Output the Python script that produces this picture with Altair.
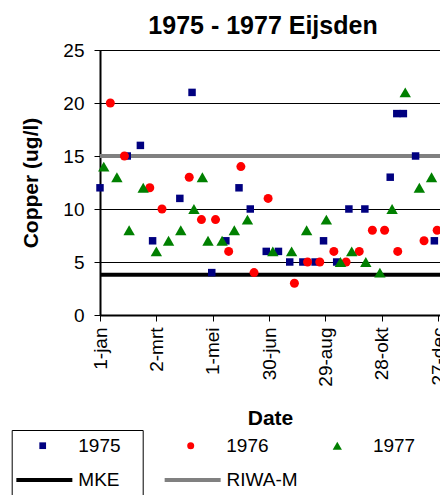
import altair as alt
import pandas as pd

years = ["1975", "1976", "1977"]
year_colors = ["#000080", "#ff0000", "#008000"]
year_shapes = ["square", "circle", "triangle-up"]

day_1975 = [0, 29, 43, 56, 85, 98, 119, 134, 148, 160, 177, 190, 202, 216, 229, 238, 252, 265, 282, 309, 316, 323, 336, 356]
cu_1975 = [12, 15, 16, 7, 11, 21, 4, 7, 12, 10, 6, 6, 5, 5, 5, 7, 5, 10, 10, 13, 19, 19, 15, 7]

day_1976 = [11, 26, 53, 66, 95, 108, 123, 137, 150, 164, 179, 207, 221, 234, 249, 262, 276, 290, 303, 317, 345, 359]
cu_1976 = [20, 15, 12, 10, 13, 9, 9, 6, 14, 4, 11, 3, 5, 5, 6, 5, 6, 8, 8, 6, 7, 8]

day_1977 = [4, 18, 31, 46, 60, 73, 86, 100, 109, 115, 130, 143, 157, 184, 204, 220, 241, 256, 268, 283, 298, 311, 325, 340, 353]
cu_1977 = [14, 13, 8, 12, 6, 7, 8, 10, 13, 7, 7, 8, 9, 6, 6, 8, 9, 5, 6, 5, 4, 10, 21, 12, 13]

norm_names = ["MKE", "RIWA-M"]
norm_levels = [3.8, 15]
norm_colors = ["#000000", "#808080"]

tick_days = [0, 60, 120, 180, 240, 300, 360]
tick_labels = ["1-jan", "2-mrt", "1-mei", "30-jun", "29-aug", "28-okt", "27-dec"]
y_ticks = [0, 5, 10, 15, 20, 25]

FONT = "Arial, Liberation Sans, sans-serif"

label_expr = " : ".join(
    f"datum.value == {d} ? '{l}'" for d, l in zip(tick_days, tick_labels)
) + " : ''"

y_enc = alt.Y(
    "cu:Q",
    scale=alt.Scale(domain=[0, 25], nice=False, zero=True),
    axis=alt.Axis(
        values=y_ticks, labelFontSize=19, labelPadding=10, tickSize=6,
        tickColor="black", domainColor="black", domainWidth=2,
        grid=True, gridColor="black", gridWidth=1, gridOpacity=1,
        labelColor="black", labelFont=FONT,
        title="Copper (ug/l)", titleFontSize=21, titleFontWeight="bold",
        titleFont=FONT, titleColor="black", titleX=-59,
    ),
)

x_enc = alt.X(
    "day:Q",
    scale=alt.Scale(domain=[0, 362], nice=False, zero=False),
    axis=alt.Axis(
        values=tick_days, labelExpr=label_expr, labelAngle=270,
        labelFontSize=19, labelPadding=6, tickSize=6, tickColor="black",
        domainColor="black", domainWidth=2, grid=False,
        labelColor="black", labelFont=FONT,
        title="Date", titleFontSize=21, titleFontWeight="bold",
        titleFont=FONT, titleColor="black", titlePadding=21,
    ),
)

# one single-entry legend per series, placed to mimic the Excel legend box
OX, OY = 100, 50  # page position of plot origin


def common_legend(**kw):
    base = dict(
        orient="none", direction="horizontal",
        labelFontSize=19, labelFont=FONT, labelColor="black",
        symbolOpacity=1,
    )
    base.update(kw)
    return alt.Legend(**base)


norm_legends = [
    common_legend(
        title="\u00a0" * 170, titleFontSize=10, titlePadding=7.35, titleLimit=3000,
        legendX=34.85 - 23.15 - OX, legendY=430 - OY, padding=23.15,
        strokeColor="black", symbolType="M-7,0H7", symbolSize=64,
        symbolStrokeWidth=4, labelOffset=24.45,
    ),
    common_legend(
        title=None, legendX=183.15 - OX, legendY=470.5 - OY, padding=0,
        symbolType="M-7,0H7", symbolSize=64, symbolStrokeWidth=4, labelOffset=24.45,
    ),
]

year_sym_centers = [42.7, 190.7, 337.3]
year_legend_sizes = [45, 49, 86]
year_mark_sizes = [56, 81, 130]

layers = []
for name, lvl, col, leg in zip(norm_names, norm_levels, norm_colors, norm_legends):
    df = pd.DataFrame({"name": [name], "cu": [lvl]})
    layers.append(
        alt.Chart(df).mark_rule(strokeWidth=4, strokeCap="butt").encode(
            y=y_enc,
            color=alt.Color("name:N", scale=alt.Scale(domain=[name], range=[col]), legend=leg),
        )
    )

for yr, ds, vs, col, shp, cx, lsz, msz in zip(
    years, [day_1975, day_1976, day_1977], [cu_1975, cu_1976, cu_1977],
    year_colors, year_shapes, year_sym_centers, year_legend_sizes, year_mark_sizes,
):
    df = pd.DataFrame({"year": [yr] * len(ds), "day": ds, "cu": vs})
    x0 = cx - 9.5
    leg = common_legend(
        title=None, legendX=x0 - OX, legendY=445.7 - 9.5 - OY, padding=0,
        symbolType=shp, symbolSize=lsz, symbolStrokeWidth=0,
        labelOffset=26.1,
    )
    layers.append(
        alt.Chart(df).mark_point(filled=True, opacity=1, strokeWidth=0, shape=shp, size=msz).encode(
            x=x_enc,
            y=y_enc,
            color=alt.Color("year:N", scale=alt.Scale(domain=[yr], range=[col]), legend=leg),
        )
    )

chart = (
    alt.layer(*layers)
    .resolve_scale(color="independent")
    .resolve_legend(color="independent")
    .properties(
        width=340,
        height=265,
        title=alt.TitleParams(
            text="1975 - 1977 Eijsden", fontSize=25, font=FONT, fontWeight="bold",
            anchor="middle", dx=-7, dy=35, offset=17, baseline="alphabetic", color="black",
            frame="group",
        ),
        padding={"left": OX - 8, "top": OY - 8, "right": 0, "bottom": 180},
        autosize=alt.AutoSizeParams(type="none"),
    )
    .configure_view(stroke="black", strokeWidth=1)
)

chart.save("out.html", embed_options={"renderer": "svg", "actions": False})
